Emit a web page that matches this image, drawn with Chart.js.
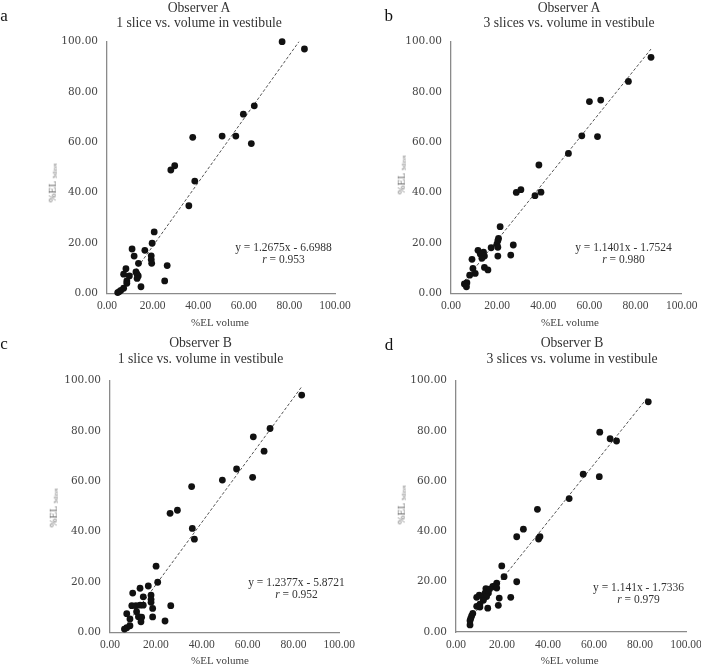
<!DOCTYPE html>
<html>
<head>
<meta charset="utf-8">
<script src="https://cdn.jsdelivr.net/npm/chart.js@4.4.1/dist/chart.umd.min.js"></script>
<style>
  body { margin: 0; background: #fff; width: 701px; height: 665px; position: relative; overflow: hidden;
         font-family: "Liberation Serif", "Times New Roman", serif; color: #333; }
  canvas { position: absolute; }
  .t { position: absolute; white-space: nowrap; line-height: 1; transform: translate(-50%, -50%); }
  .letter { font-size: 17px; color: #111; }
  .ttl { font-size: 13.7px; color: #333; }
  .eq { font-size: 11.5px; color: #333; }
  .xt { font-size: 11px; color: #444; }
  .yt { font-size: 10.5px; color: #6a6a6a; transform: translate(-50%, -50%) rotate(-90deg); }
  .yt span { font-size: 5.5px; vertical-align: -1px; }
</style>
</head>
<body>
<script>
// ---- data: %EL volume (x) vs %EL slices (y), one pair of arrays per panel ----
const obsA1Vol = [76.8, 86.6, 64.6, 59.8, 37.6, 50.5, 56.5, 63.3, 28.0, 29.7, 38.5, 35.9, 20.7, 19.8, 16.6, 11.0, 11.9, 19.4, 19.4,
                  19.6, 13.8, 26.4, 8.3, 7.3, 9.8, 12.7, 13.2, 13.7, 13.2, 8.7, 8.7, 25.3, 14.9, 7.3, 6.1, 5.4, 4.7];
const obsA1El  = [100.0, 97.1, 74.5, 71.2, 62.0, 62.5, 62.5, 59.5, 49.0, 50.7, 44.6, 34.8, 24.4, 19.9, 17.1, 17.6, 14.8, 14.9, 13.4,
                  11.9, 11.9, 11.0, 9.8, 7.6, 6.9, 8.5, 7.6, 6.9, 5.9, 4.9, 4.0, 4.9, 2.6, 2.0, 1.2, 0.7, 0.3];

const obsA3Vol = [86.7, 76.9, 60.0, 64.9, 56.7, 63.5, 50.9, 38.1, 28.3, 30.3, 36.4, 39.0, 21.3, 20.6, 20.3, 19.9, 20.3, 27.0,
                  17.4, 11.7, 14.1, 12.7, 14.5, 13.4, 20.3, 25.9, 9.1, 14.5, 16.0, 9.5, 10.5, 8.1, 6.9, 5.8, 6.7];
const obsA3El  = [93.8, 84.2, 76.2, 76.8, 62.6, 62.3, 55.6, 51.0, 40.1, 41.2, 38.8, 40.2, 26.5, 21.8, 20.9, 19.5, 18.3, 19.2,
                  18.1, 17.1, 16.4, 15.6, 14.8, 13.9, 14.8, 15.2, 13.5, 10.3, 9.3, 9.9, 7.9, 7.2, 4.2, 3.7, 2.6];

const obsB1Vol = [83.6, 69.8, 62.5, 67.2, 55.2, 62.2, 49.0, 35.6, 26.2, 29.4, 35.9, 36.8, 20.1, 20.8, 16.7, 13.1, 9.9, 17.9, 17.9,
                  17.9, 14.5, 18.6, 18.6, 9.5, 11.3, 13.1, 14.5, 11.6, 7.3, 8.7, 12.4, 13.8, 13.5, 24.0, 26.5, 8.7, 7.3, 6.3];
const obsB1El  = [94.3, 81.0, 77.7, 72.0, 64.9, 61.6, 60.5, 57.9, 47.3, 48.5, 41.3, 37.0, 26.3, 19.9, 18.4, 17.5, 15.6, 14.8, 13.1,
                  11.9, 14.1, 9.5, 6.1, 10.6, 10.6, 10.8, 10.8, 8.2, 7.4, 5.3, 6.2, 6.0, 4.2, 4.5, 10.6, 2.6, 1.8, 1.3];

const obsB3Vol = [83.6, 62.5, 67.0, 69.8, 55.3, 62.3, 49.2, 35.4, 29.3, 26.4, 36.5, 35.9, 19.9, 20.9, 26.4, 17.7, 17.0, 16.0, 17.7, 13.0,
                  14.5, 12.6, 14.1, 10.1, 9.0, 11.9, 13.3, 18.8, 23.8, 11.9, 10.4, 9.0, 10.4, 13.8, 18.4, 7.3, 6.8, 6.4, 6.1, 6.1];
const obsB3El  = [91.6, 79.5, 76.9, 76.0, 62.8, 61.8, 53.1, 48.8, 40.9, 37.9, 37.9, 37.0, 26.3, 22.0, 20.0, 19.4, 18.3, 18.1, 17.5, 17.3,
                  17.1, 15.5, 15.5, 14.7, 13.8, 13.5, 14.1, 13.5, 13.8, 12.6, 11.1, 10.2, 9.9, 9.5, 10.6, 7.4, 6.4, 5.4, 4.5, 2.8];

// regression lines printed on the panels
const slopes     = [1.2675, 1.1401, 1.2377, 1.141];
const intercepts = [-6.6988, -1.7524, -5.8721, -1.7336];
const rValues    = ['0.953', '0.980', '0.952', '0.979'];

const letters  = ['a', 'b', 'c', 'd'];
const titles1  = ['Observer A', 'Observer A', 'Observer B', 'Observer B'];
const titles2  = ['1 slice vs. volume in vestibule', '3 slices vs. volume in vestibule',
                  '1 slice vs. volume in vestibule', '3 slices vs. volume in vestibule'];
const axisTicks = [0, 20, 40, 60, 80, 100];

const xSets = [obsA1Vol, obsA3Vol, obsB1Vol, obsB3Vol];
const ySets = [obsA1El, obsA3El, obsB1El, obsB3El];

// ---- layout (page pixels) ----
const layout = [
  { cv: [0, 0, 365, 330],   area: [107, 335, 41.7, 293.3],   letter: [4, 14.5],   title: [199, 7.8, 22.9],
    eq: [283.5, 248.3, 260.2], yt: [53.3, 183], xt: [220, 321.7] },
  { cv: [350, 0, 351, 330], area: [451, 681.7, 41.7, 293.3], letter: [388.8, 14.7], title: [569, 8.3, 22.9],
    eq: [623.5, 248.3, 260.2], yt: [402, 175], xt: [570, 321.7] },
  { cv: [0, 330, 365, 335], area: [110, 339.3, 380.7, 632.3], letter: [4, 343],  title: [200.5, 343.3, 358.5],
    eq: [296.5, 582.7, 595], yt: [54, 507.5], xt: [220, 660] },
  { cv: [350, 330, 351, 335], area: [456, 686, 380.7, 632], letter: [389, 344],  title: [572, 343.3, 358.5],
    eq: [638.5, 588.3, 599.5], yt: [402, 505], xt: [569.7, 660] }
];

// fixed axis box sizes (y labels are clipped to the axis box, so keep it wide)
const Y_W = 60, X_H = 22;

function addText(cls, html, x, y) {
  const d = document.createElement('div');
  d.className = 't ' + cls;
  d.innerHTML = html;
  d.style.left = x + 'px';
  d.style.top  = y + 'px';
  document.body.appendChild(d);
}

function makePanel(i) {
  const L = layout[i];
  const [cx, cy, cw, ch] = L.cv;
  const [aL, aR, aT, aB] = L.area;

  const cv = document.createElement('canvas');
  cv.width = cw; cv.height = ch;
  cv.style.left = cx + 'px'; cv.style.top = cy + 'px';
  cv.style.width = cw + 'px'; cv.style.height = ch + 'px';
  document.body.appendChild(cv);

  const xs = xSets[i], ys = ySets[i];
  const pts = xs.map((x, k) => ({ x: x, y: ys[k] }));
  const xMin = Math.min(...xs), xMax = Math.max(...xs);
  const fit = [xMin, xMax].map(x => ({ x: x, y: slopes[i] * x + intercepts[i] }));

  const axisBorder = { display: true, color: '#8a8a8a', width: 1.3 };

  new Chart(cv, {
    type: 'scatter',
    data: {
      datasets: [
        { data: pts, backgroundColor: '#111', borderColor: '#111', pointRadius: 3.4, pointHoverRadius: 3.4,
          borderWidth: 0, clip: false, order: 1 },
        { type: 'line', data: fit, showLine: true, borderColor: '#555', borderWidth: 1, borderDash: [3, 2],
          pointRadius: 0, fill: false, order: 2 }
      ]
    },
    options: {
      responsive: false,
      animation: false,
      devicePixelRatio: 1,
      layout: { padding: { left: aL - cx - Y_W, right: cx + cw - aR, top: aT - cy, bottom: cy + ch - aB - X_H } },
      plugins: { legend: { display: false }, tooltip: { enabled: false } },
      scales: {
        x: {
          type: 'linear', min: 0, max: 100,
          afterBuildTicks: s => { s.ticks = axisTicks.map(v => ({ value: v })); },
          afterFit: s => { s.height = X_H; s.paddingLeft = 0; s.paddingRight = 0; },
          grid: { display: false, drawTicks: false },
          border: axisBorder,
          ticks: { padding: 6, color: '#444', font: { family: 'Liberation Serif', size: 11.5 },
                   callback: v => Number(v).toFixed(2), maxRotation: 0 }
        },
        y: {
          type: 'linear', min: 0, max: 100,
          afterBuildTicks: s => { s.ticks = axisTicks.map(v => ({ value: v })); },
          afterFit: s => { s.width = Y_W; s.paddingTop = 0; s.paddingBottom = 0; },
          grid: { display: false, drawTicks: false },
          border: axisBorder,
          ticks: { padding: 9, color: '#444', font: { family: 'DejaVu Serif', size: 10.5 },
                   callback: v => Number(v).toFixed(2) }
        }
      }
    }
  });

  addText('letter', letters[i], L.letter[0], L.letter[1]);
  addText('ttl', titles1[i], L.title[0], L.title[1]);
  addText('ttl', titles2[i], L.title[0], L.title[2]);
  addText('eq', 'y = ' + slopes[i] + 'x - ' + Math.abs(intercepts[i]), L.eq[0], L.eq[1]);
  addText('eq', '<i>r</i> = ' + rValues[i], L.eq[0], L.eq[2]);
  addText('xt', '%EL volume', L.xt[0], L.xt[1]);
  addText('yt', '%EL <span>3slices</span>', L.yt[0], L.yt[1]);
}

for (let i = 0; i < 4; i++) makePanel(i);
</script>
</body>
</html>
